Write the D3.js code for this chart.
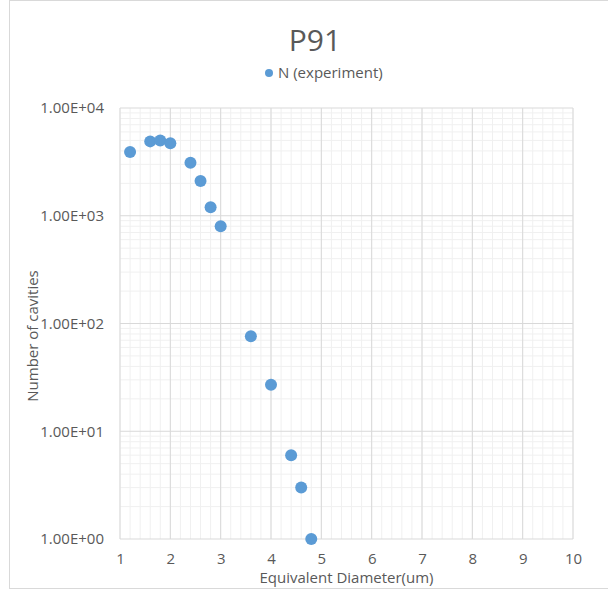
<!DOCTYPE html>
<html>
<head>
<meta charset="utf-8">
<script src="https://cdn.jsdelivr.net/npm/d3@7"></script>
<style>
  body { margin: 0; background: #fff; }
  svg text { font-family: "Open Sans", "Noto Sans", sans-serif; fill: #595959; }
</style>
</head>
<body>
<svg id="chart" width="608" height="593"></svg>
<script>
// data
var diameters = [1.2, 1.6, 1.8, 2.0, 2.4, 2.6, 2.8, 3.0, 3.6, 4.0, 4.4, 4.6, 4.8];
var cavities = [3900, 4900, 5000, 4700, 3100, 2100, 1200, 800, 76, 27, 6, 3, 1];
var xTicks = [1, 2, 3, 4, 5, 6, 7, 8, 9, 10];
var yTicks = [1, 10, 100, 1000, 10000];
var seriesName = 'N (experiment)';

var svg = d3.select('#chart'),
    margin = {top: 108, right: 35, bottom: 54, left: 120},
    width = 608 - margin.left - margin.right,
    height = 593 - margin.top - margin.bottom;

// chart border
svg.append('rect')
    .attr('x', 9.5).attr('y', 0.5)
    .attr('width', 610).attr('height', 588)
    .attr('fill', 'none').attr('stroke', '#d9d9d9');

var g = svg.append('g').attr('transform', 'translate(' + margin.left + ',' + margin.top + ')');

var x = d3.scaleLinear().domain([1, 10]).range([0, width]);
var y = d3.scaleLog().domain([1, 10000]).range([height, 0]);

// minor grid
var xMinor = d3.range(1, 10.001, 0.2);
g.selectAll('.xminor').data(xMinor).enter().append('line')
    .attr('x1', function(d) { return x(d); }).attr('x2', function(d) { return x(d); })
    .attr('y1', 0).attr('y2', height)
    .attr('stroke', '#f0f0f0');

var yMinor = [];
for (var dec = 1; dec < 10000; dec *= 10) {
  for (var m = 2; m <= 9; m++) yMinor.push(dec * m);
}
g.selectAll('.yminor').data(yMinor).enter().append('line')
    .attr('x1', 0).attr('x2', width)
    .attr('y1', function(d) { return y(d); }).attr('y2', function(d) { return y(d); })
    .attr('stroke', '#f0f0f0');

// major grid
g.selectAll('.xmajor').data(xTicks).enter().append('line')
    .attr('x1', function(d) { return x(d); }).attr('x2', function(d) { return x(d); })
    .attr('y1', 0).attr('y2', height)
    .attr('stroke', '#d9d9d9');

g.selectAll('.ymajor').data(yTicks).enter().append('line')
    .attr('x1', 0).attr('x2', width)
    .attr('y1', function(d) { return y(d); }).attr('y2', function(d) { return y(d); })
    .attr('stroke', '#d9d9d9');

// axes (labels only)
var xAxis = g.append('g')
    .attr('transform', 'translate(0,' + height + ')')
    .call(d3.axisBottom(x).tickValues(xTicks).tickSize(0).tickPadding(14).tickFormat(d3.format('d')));
xAxis.select('.domain').remove();
xAxis.selectAll('text').style('font-size', '15px').attr('fill', '#595959');

var yAxis = g.append('g')
    .call(d3.axisLeft(y).tickValues(yTicks).tickSize(0).tickPadding(16)
      .tickFormat(function(d) {
        var e = Math.round(Math.log10(d));
        return '1.00E+' + (e < 10 ? '0' : '') + e;
      }));
yAxis.select('.domain').remove();
yAxis.selectAll('text').style('font-size', '15px').attr('fill', '#595959');

// points
g.selectAll('.dot').data(diameters).enter().append('circle')
    .attr('cx', function(d) { return x(d); })
    .attr('cy', function(d, i) { return y(cavities[i]); })
    .attr('r', 6)
    .attr('fill', '#5b9bd5');

// titles
svg.append('text')
    .attr('x', 315).attr('y', 51)
    .attr('text-anchor', 'middle')
    .style('font-size', '30px')
    .text('P91');

svg.append('circle').attr('cx', 269).attr('cy', 73).attr('r', 4).attr('fill', '#5b9bd5');
svg.append('text')
    .attr('x', 278).attr('y', 78)
    .style('font-size', '15px')
    .text(seriesName);

svg.append('text')
    .attr('x', margin.left + width / 2).attr('y', 583)
    .attr('text-anchor', 'middle')
    .style('font-size', '15px')
    .text('Equivalent Diameter(um)');

svg.append('text')
    .attr('transform', 'translate(38,' + 336 + ') rotate(-90)')
    .attr('text-anchor', 'middle')
    .style('font-size', '15px')
    .text('Number of cavities');
</script>
</body>
</html>
